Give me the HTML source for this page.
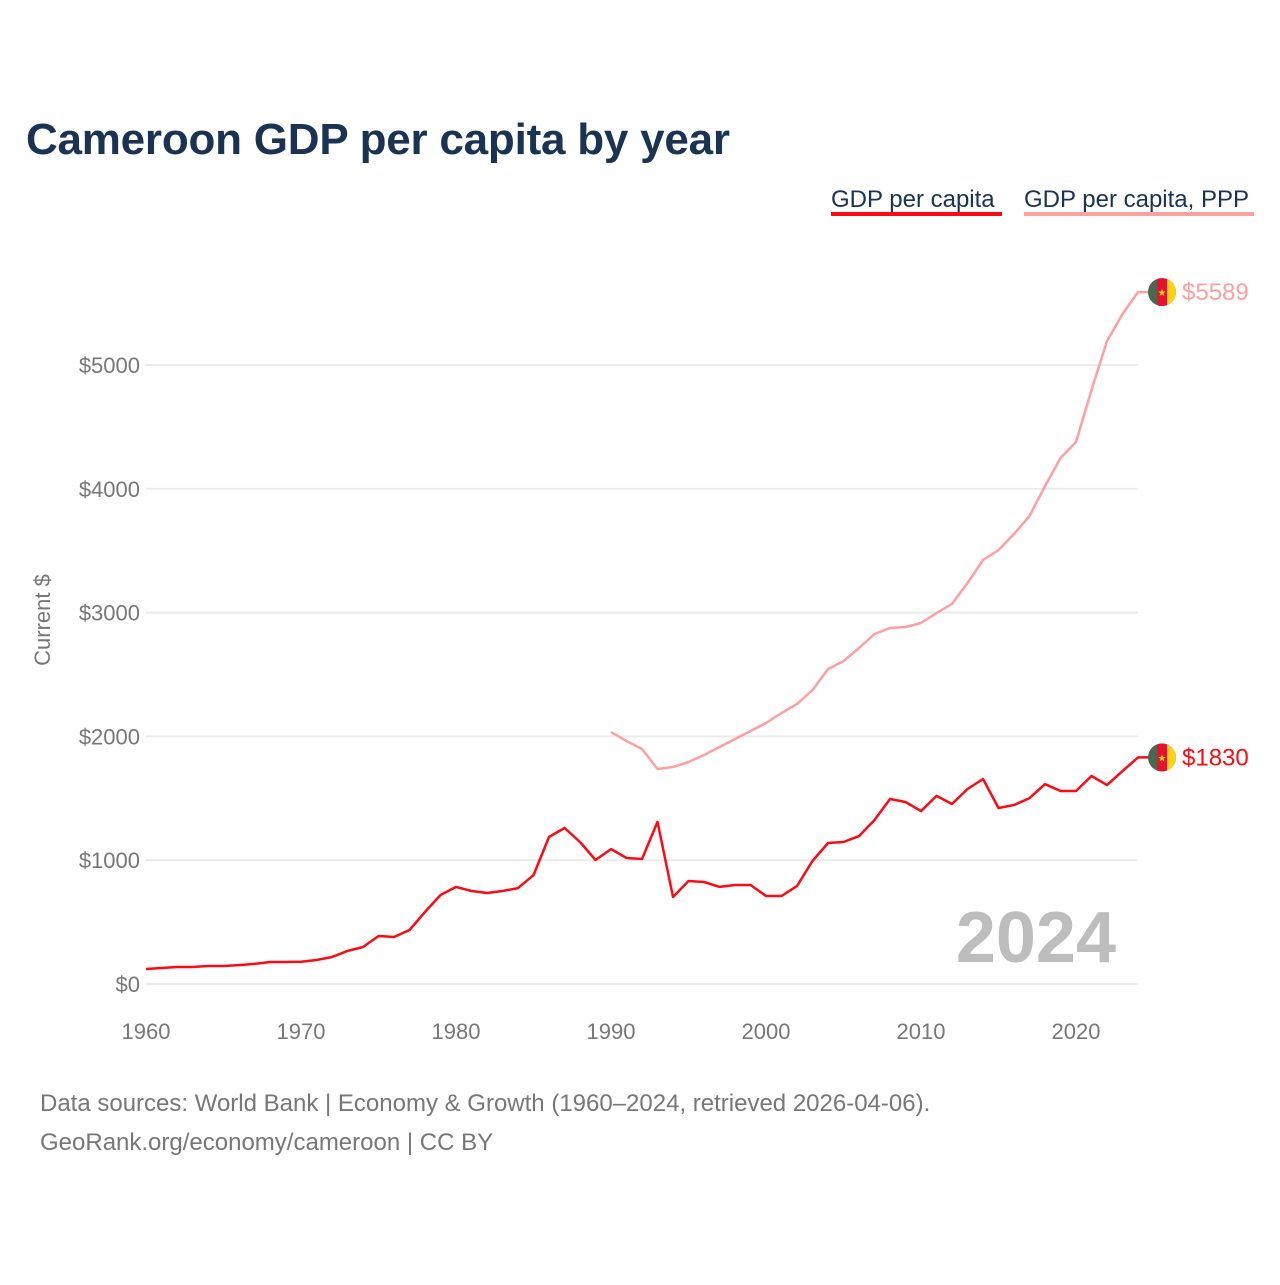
<!DOCTYPE html>
<html><head><meta charset="utf-8"><style>
body{margin:0;background:#fff;width:1280px;height:1280px;overflow:hidden;font-family:"Liberation Sans",sans-serif}
svg text{font-family:"Liberation Sans",sans-serif}
</style></head><body>
<svg id="chart" width="1280" height="1280" xmlns="http://www.w3.org/2000/svg">
<defs><clipPath id="flagclip"><circle r="14" cx="0" cy="0"/></clipPath></defs>
<text x="26" y="154" font-size="44" font-weight="bold" fill="#1b3352" textLength="704">Cameroon GDP per capita by year</text>
<g><text x="831" y="207" font-size="24" fill="#1b3352">GDP per capita</text><rect x="831" y="212" width="171" height="4" fill="#ff0a14"/></g>
<g><text x="1024" y="207" font-size="24" fill="#1b3352">GDP per capita, PPP</text><rect x="1024" y="212" width="230" height="4" fill="#ffa0a0"/></g>
<text transform="translate(50,620) rotate(-90)" text-anchor="middle" font-size="22" fill="#777">Current $</text>
<g id="grid"></g><g id="xt"></g><g id="lines"></g>
<text x="1116" y="962" text-anchor="end" font-size="72" font-weight="bold" fill="#bdbdbd">2024</text>
<text x="40" y="1111" font-size="24" fill="#777">Data sources: World Bank | Economy &amp; Growth (1960–2024, retrieved 2026-04-06).</text>
<text x="40" y="1150" font-size="24" fill="#777">GeoRank.org/economy/cameroon | CC BY</text>
</svg>
<script>
const years=[];for(let y=1960;y<=2024;y++)years.push(y);
const gdp=[121,129,137,137,145,145,153,162,178,178,180,194,218,267,299,388,380,436,582,719,784,751,735,751,775,880,1187,1260,1147,1002,1090,1018,1010,1309,703,832,824,784,800,800,711,711,792,994,1139,1147,1195,1325,1494,1470,1397,1519,1454,1575,1656,1422,1446,1502,1615,1559,1559,1680,1607,1720,1830];
const pppYears=[];for(let y=1990;y<=2024;y++)pppYears.push(y);
const ppp=[2035,1963,1898,1737,1753,1793,1850,1914,1979,2044,2108,2189,2262,2375,2544,2609,2714,2827,2876,2884,2916,2997,3070,3239,3425,3506,3635,3780,4023,4249,4378,4798,5194,5412,5589];
const yTicks=[0,1000,2000,3000,4000,5000];
const xTicks=[1960,1970,1980,1990,2000,2010,2020];
const NS='http://www.w3.org/2000/svg';
const X=y=>146+(y-1960)*15.5;
const Y=v=>984-v*0.1238;
function mk(t,a,p){const e=document.createElementNS(NS,t);for(const k in a)e.setAttribute(k,a[k]);p.appendChild(e);return e;}
const grid=document.getElementById('grid');
yTicks.forEach(v=>{
 const l=mk('line',{x1:146,x2:1138,y1:Y(v),y2:Y(v),stroke:'#ebebeb','stroke-width':2},grid);
 
 
 const t=mk('text',{x:140,y:Y(v)+8,'text-anchor':'end','font-size':22,fill:'#777'},grid);
 t.textContent='$'+v;
 
 
});
const xt=document.getElementById('xt');
xTicks.forEach(y=>{
 const t=mk('text',{x:X(y),y:1039,'text-anchor':'middle','font-size':22,fill:'#777'},xt);
 t.textContent=y;
 
 
});
const lines=document.getElementById('lines');
function series(xs,vs,col,name,w){
 const d=xs.map((y,i)=>(i?'L':'M')+X(y).toFixed(1)+','+Y(vs[i]).toFixed(1)).join('')+'H1150';
 const p=mk('path',{d:d,fill:'none',stroke:col,'stroke-width':w,'stroke-linejoin':'round'},lines);
 
 
 const yy=Y(vs[vs.length-1]);
 const g=mk('g',{transform:`translate(1162,${yy})`},lines);
 
 
 const gg=mk('g',{'clip-path':'url(#flagclip)'},g);
 mk('rect',{x:-14,y:-14,width:28,height:28,fill:'#4d6650'},gg);
 mk('rect',{x:-5,y:-14,width:10,height:28,fill:'#e8112d'},gg);
 mk('rect',{x:5,y:-14,width:10,height:28,fill:'#fcd116'},gg);
 mk('text',{x:0,y:4,'text-anchor':'middle','font-size':10,fill:'#fcd116'},gg).textContent='★';
 const t=mk('text',{x:1182,y:yy+8,'font-size':24,fill:col},lines);
 t.textContent='$'+vs[vs.length-1];
 
 
}
series(pppYears,ppp,'#ffa0a0','gdp-ppp',2.5);
series(years,gdp,'#ff0a14','gdp',2.5);
</script>
</body></html>
